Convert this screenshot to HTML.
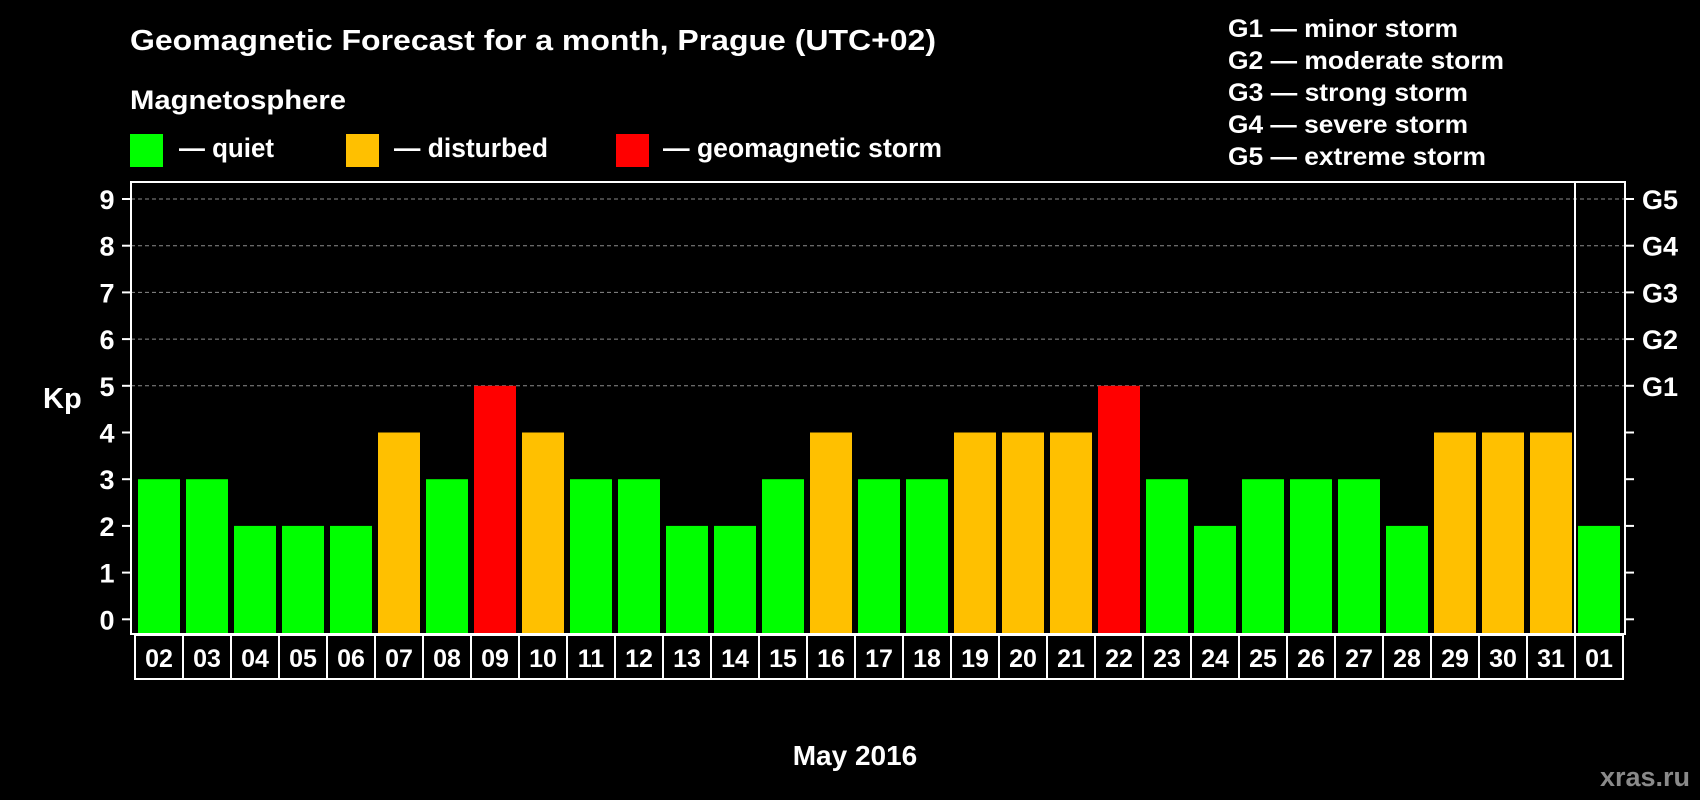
<!DOCTYPE html>
<html><head><meta charset="utf-8"><style>
html,body{margin:0;padding:0;background:#000;}
svg{display:block;font-family:"Liberation Sans",sans-serif;font-weight:bold;}
</style></head><body>
<svg id="chart" width="1700" height="800" xmlns="http://www.w3.org/2000/svg">
<rect width="1700" height="800" fill="#000"/>
<text x="130" y="50" font-size="29" fill="#fff" textLength="806" lengthAdjust="spacingAndGlyphs">Geomagnetic Forecast for a month, Prague (UTC+02)</text>
<text x="130" y="109" font-size="27" fill="#fff" textLength="216" lengthAdjust="spacingAndGlyphs">Magnetosphere</text>
<rect x="130" y="134" width="33" height="33" fill="#00ff00"/>
<text x="179" y="157" font-size="27" fill="#fff" textLength="95" lengthAdjust="spacingAndGlyphs">— quiet</text>
<rect x="346" y="134" width="33" height="33" fill="#ffc000"/>
<text x="394" y="157" font-size="27" fill="#fff" textLength="154" lengthAdjust="spacingAndGlyphs">— disturbed</text>
<rect x="616" y="134" width="33" height="33" fill="#ff0000"/>
<text x="663" y="157" font-size="27" fill="#fff" textLength="279" lengthAdjust="spacingAndGlyphs">— geomagnetic storm</text>
<g font-size="25" fill="#fff">
<text x="1228" y="37" textLength="230" lengthAdjust="spacingAndGlyphs">G1 — minor storm</text>
<text x="1228" y="69" textLength="276" lengthAdjust="spacingAndGlyphs">G2 — moderate storm</text>
<text x="1228" y="101" textLength="240" lengthAdjust="spacingAndGlyphs">G3 — strong storm</text>
<text x="1228" y="133" textLength="240" lengthAdjust="spacingAndGlyphs">G4 — severe storm</text>
<text x="1228" y="165" textLength="258" lengthAdjust="spacingAndGlyphs">G5 — extreme storm</text>
</g>
<text x="43" y="408" font-size="29" fill="#fff">Kp</text>
<text x="855" y="765" font-size="28" fill="#fff" text-anchor="middle">May 2016</text>
<text x="1690" y="786" font-size="27" fill="#8a8a8a" text-anchor="end">xras.ru</text>
<g id="grid"></g><g id="bars"></g><g id="axes"></g><g id="labels"></g>
</svg>
<script>
const days = ["02","03","04","05","06","07","08","09","10","11","12","13","14","15","16","17","18","19","20","21","22","23","24","25","26","27","28","29","30","31","01"];
const kpValues = [3,3,2,2,2,4,3,5,4,3,3,2,2,3,4,3,3,4,4,4,5,3,2,3,3,3,2,4,4,4,2];
const yTicks = [0,1,2,3,4,5,6,7,8,9];
const gLabels = ["","","","","","G1","G2","G3","G4","G5"];
const NS="http://www.w3.org/2000/svg";
const plotL=131, plotR=1625, plotT=182, plotB=634;
const y0=619.3, unit=46.7;
function yScale(v){return y0-v*unit;}
const step=48, x0=138, bw=42;
function xScale(i){return x0+i*step;}
function mk(tag,attrs,parent){const e=document.createElementNS(NS,tag);for(const k in attrs)e.setAttribute(k,attrs[k]);parent.appendChild(e);return e;}
const grid=document.getElementById('grid'),bars=document.getElementById('bars'),axes=document.getElementById('axes'),labels=document.getElementById('labels');
yTicks.forEach((t,i)=>{
  const y=yScale(t);
  if(t>=5){const g=mk('line',{x1:plotL,x2:plotR,y1:y,y2:y,stroke:'#8c8c8c','stroke-width':1,'stroke-dasharray':'4,3'},grid);
    
    }
  const tl=mk('line',{x1:122,x2:plotL,y1:y,y2:y,stroke:'#fff','stroke-width':2},axes);
  
  
  const tr=mk('line',{x1:plotR,x2:plotR+9,y1:y,y2:y,stroke:'#fff','stroke-width':2},axes);
  
  
  const lt=mk('text',{x:107,y:y+10,'font-size':27,fill:'#fff','text-anchor':'middle'},labels);lt.textContent=t;
  
  
  if(gLabels[i]){const gt=mk('text',{x:1642,y:y+10,'font-size':27,fill:'#fff'},labels);gt.textContent=gLabels[i];
    
    }
});
kpValues.forEach((v,i)=>{
  const col=v>=5?'#ff0000':(v>=4?'#ffc000':'#00ff00');
  const r=mk('rect',{x:xScale(i),y:yScale(v),width:bw,height:plotB-yScale(v),fill:col},bars);
  
  
  const bx=xScale(i)-3;
  const b=mk('rect',{x:bx,y:635,width:step,height:44,fill:'none',stroke:'#fff','stroke-width':2},labels);
  
  
  const t=mk('text',{x:bx+step/2,y:667,'font-size':25,fill:'#fff','text-anchor':'middle'},labels);t.textContent=days[i];
  
  
});
const fr=mk('rect',{x:plotL,y:plotT,width:plotR-plotL,height:plotB-plotT,fill:'none',stroke:'#fff','stroke-width':2},axes);


const sx=xScale(30)-3;
const sp=mk('line',{x1:sx,x2:sx,y1:plotT,y2:plotB,stroke:'#fff','stroke-width':2},axes);


</script>
</body></html>
